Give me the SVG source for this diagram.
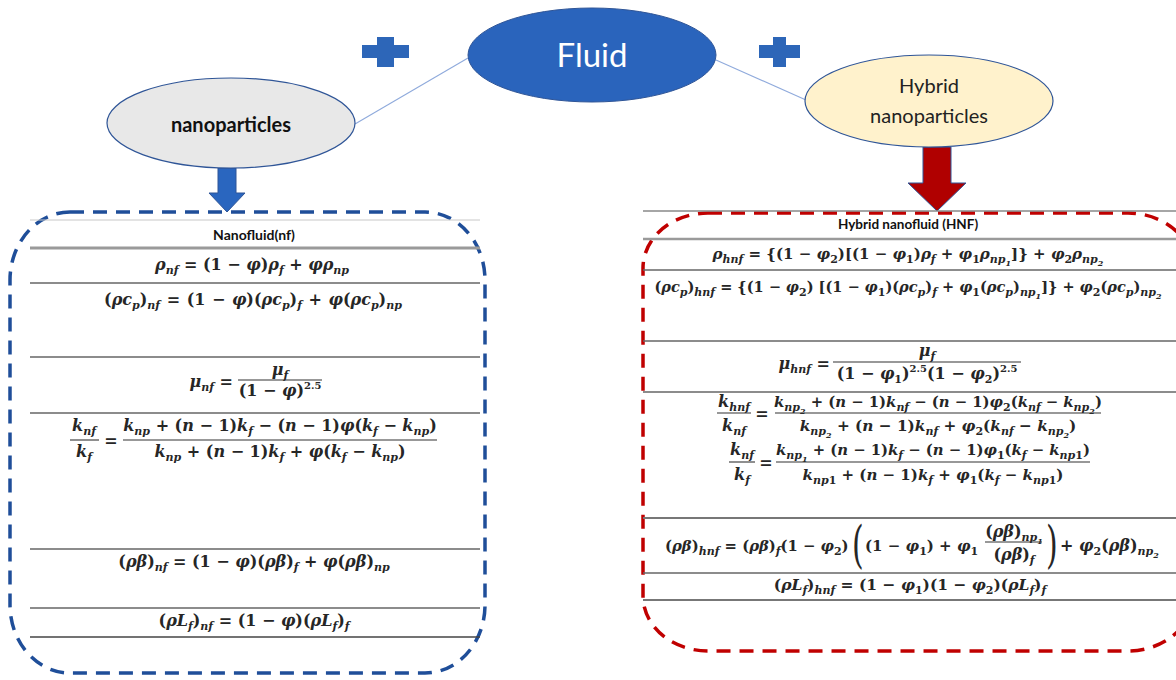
<svg xmlns="http://www.w3.org/2000/svg" width="1176" height="680" viewBox="0 0 1176 680">
<style>
.lbl{font-family:Lato,"Open Sans","Liberation Sans",sans-serif;}
.m{font-family:"DejaVu Serif","Liberation Serif",serif;font-weight:bold;font-size:16px;fill:#262626;}
.i{font-style:italic;}
.sb{font-size:11px;baseline-shift:-4px;}
.ss{font-size:8px;baseline-shift:-3px;}
.sp{font-size:10px;baseline-shift:7px;}
.big{font-family:"DejaVu Serif","Liberation Serif",serif;font-weight:normal;fill:#262626;}
.hl{stroke:#666;stroke-width:1.3;}
.fb{stroke:#333;stroke-width:1.1;}
.conn{stroke:#8FAADC;stroke-width:1.1;fill:none;}
</style>
<rect width="1176" height="680" fill="#fff"/>

<g id="connectors">
<line class="conn" x1="468" y1="58" x2="355" y2="124"/>
<line class="conn" x1="716" y1="60" x2="806" y2="100"/>
<path d="M218,168 H236 V193 H245 L227,212 L209,193 H218 Z" fill="#2A66BF" stroke="#2F5597" stroke-width="1"/>
<path d="M923,147 H951 V183 H966 L937,211 L908,183 H923 Z" fill="#B00000" stroke="#2F5597" stroke-width="1"/>
</g>

<g id="plus-left"><path d="M377,37 H394 V45 H409 V58 H394 V67 H377 V58 H362 V45 H377 Z" fill="#2D66B8"/></g>
<g id="plus-right"><path d="M773,37 H786 V45 H800 V58 H786 V67 H773 V58 H759 V45 H773 Z" fill="#2D66B8"/></g>

<g id="fluid">
<ellipse cx="592" cy="55" rx="124" ry="47" fill="#2A64BC" stroke="#2F5597" stroke-width="1"/>
<text class="lbl" x="592" y="67" text-anchor="middle" font-size="33" fill="#fff">Fluid</text>
</g>

<g id="nanoparticles">
<ellipse cx="231" cy="123" rx="124" ry="45" fill="#E8E8E8" stroke="#2F5597" stroke-width="1.2"/>
<text class="lbl" x="231" y="132" text-anchor="middle" font-size="20" font-weight="bold" fill="#111">nanoparticles</text>
</g>

<g id="hybrid">
<ellipse cx="929" cy="101" rx="124" ry="46" fill="#FFF2CC" stroke="#2F5597" stroke-width="1.2"/>
<text class="lbl" x="929" y="93" text-anchor="middle" font-size="20" fill="#222">Hybrid</text>
<text class="lbl" x="929" y="123" text-anchor="middle" font-size="20" fill="#222">nanoparticles</text>
</g>

<g id="nanofluid-table">
<rect x="10" y="212" width="475" height="461" rx="60" ry="68" fill="none" stroke="#1F4E99" stroke-width="3.5" stroke-dasharray="14 9"/>
<line x1="30" y1="220" x2="480" y2="220" stroke="#c8c8c8" stroke-width="1"/>
<line x1="30" y1="248" x2="480" y2="248" stroke="#9a9a9a" stroke-width="3"/>
<line class="hl" x1="30" y1="283" x2="480" y2="283"/>
<line class="hl" x1="30" y1="357" x2="480" y2="357"/>
<line class="hl" x1="30" y1="413" x2="480" y2="413"/>
<line class="hl" x1="30" y1="549" x2="480" y2="549"/>
<line class="hl" x1="30" y1="608" x2="480" y2="608"/>
<line x1="30" y1="637" x2="480" y2="637" stroke="#444" stroke-width="1.5"/>
<text class="lbl" x="254" y="240" text-anchor="middle" font-size="14" font-weight="bold" fill="#111">Nanofluid(nf)</text>
<text class="m" x="252" y="270" text-anchor="middle"><tspan class="i">ρ</tspan><tspan class="i sb">nf</tspan> = (1 − <tspan class="i">φ</tspan>)<tspan class="i">ρ</tspan><tspan class="i sb">f</tspan> + <tspan class="i">φρ</tspan><tspan class="i sb">np</tspan></text>
<text class="m" x="253" y="305" text-anchor="middle" style="word-spacing:1px">(<tspan class="i">ρc</tspan><tspan class="i sb">p</tspan>)<tspan class="i sb">nf</tspan> = (1 − <tspan class="i">φ</tspan>)(<tspan class="i">ρc</tspan><tspan class="i sb">p</tspan>)<tspan class="i sb">f</tspan> + <tspan class="i">φ</tspan>(<tspan class="i">ρc</tspan><tspan class="i sb">p</tspan>)<tspan class="i sb">np</tspan></text>
<text class="m" x="233" y="387" text-anchor="end"><tspan class="i">μ</tspan><tspan class="i sb">nf</tspan> =</text>
<text class="m" x="280" y="375" text-anchor="middle"><tspan class="i">μ</tspan><tspan class="i sb">f</tspan></text>
<line class="fb" x1="238" y1="380" x2="322" y2="380"/>
<text class="m" x="280" y="396" text-anchor="middle">(1 − <tspan class="i">φ</tspan>)<tspan class="sp">2.5</tspan></text>
<text class="m" x="84" y="431" text-anchor="middle"><tspan class="i">k</tspan><tspan class="i sb">nf</tspan></text>
<line class="fb" x1="70" y1="440" x2="99" y2="440"/>
<text class="m" x="84" y="457" text-anchor="middle"><tspan class="i">k</tspan><tspan class="i sb">f</tspan></text>
<text class="m" x="111" y="446" text-anchor="middle">=</text>
<text class="m" x="280" y="431" text-anchor="middle"><tspan class="i">k</tspan><tspan class="i sb">np</tspan> + (<tspan class="i">n</tspan> − 1)<tspan class="i">k</tspan><tspan class="i sb">f</tspan> − (<tspan class="i">n</tspan> − 1)<tspan class="i">φ</tspan>(<tspan class="i">k</tspan><tspan class="i sb">f</tspan> − <tspan class="i">k</tspan><tspan class="i sb">np</tspan>)</text>
<line class="fb" x1="123" y1="440" x2="437" y2="440"/>
<text class="m" x="280" y="457" text-anchor="middle"><tspan class="i">k</tspan><tspan class="i sb">np</tspan> + (<tspan class="i">n</tspan> − 1)<tspan class="i">k</tspan><tspan class="i sb">f</tspan> + <tspan class="i">φ</tspan>(<tspan class="i">k</tspan><tspan class="i sb">f</tspan> − <tspan class="i">k</tspan><tspan class="i sb">np</tspan>)</text>
<text class="m" x="254" y="567" text-anchor="middle">(<tspan class="i">ρβ</tspan>)<tspan class="i sb">nf</tspan> = (1 − <tspan class="i">φ</tspan>)(<tspan class="i">ρβ</tspan>)<tspan class="i sb">f</tspan> + <tspan class="i">φ</tspan>(<tspan class="i">ρβ</tspan>)<tspan class="i sb">np</tspan></text>
<text class="m" x="254" y="626" text-anchor="middle">(<tspan class="i">ρL</tspan><tspan class="i sb">f</tspan>)<tspan class="i sb">nf</tspan> = (1 − <tspan class="i">φ</tspan>)(<tspan class="i">ρL</tspan><tspan class="i sb">f</tspan>)<tspan class="i sb">f</tspan></text>
</g>

<g id="hybrid-table">
<rect x="643" y="213" width="550" height="438" rx="65" ry="55" fill="none" stroke="#C00000" stroke-width="3.5" stroke-dasharray="14 9"/>
<line x1="643" y1="211" x2="1176" y2="211" stroke="#888" stroke-width="1.3"/>
<line x1="643" y1="239" x2="1176" y2="239" stroke="#9a9a9a" stroke-width="2.5"/>
<line class="hl" x1="643" y1="270" x2="1176" y2="270"/>
<line class="hl" x1="643" y1="341" x2="1176" y2="341"/>
<line class="hl" x1="643" y1="392" x2="1176" y2="392"/>
<line x1="643" y1="518" x2="1176" y2="518" stroke="#777" stroke-width="2"/>
<line class="hl" x1="643" y1="573" x2="1176" y2="573"/>
<line x1="643" y1="600" x2="1176" y2="600" stroke="#777" stroke-width="2"/>
<text class="lbl" x="908" y="229" text-anchor="middle" font-size="13.5" font-weight="bold" fill="#111">Hybrid nanofluid (HNF)</text>
<text class="m" x="908" y="259" text-anchor="middle" style="font-size:15px"><tspan class="i">ρ</tspan><tspan class="i sb">hnf</tspan> = {(1 − <tspan class="i">φ</tspan><tspan class="sb">2</tspan>)[(1 − <tspan class="i">φ</tspan><tspan class="sb">1</tspan>)<tspan class="i">ρ</tspan><tspan class="i sb">f</tspan> + <tspan class="i">φ</tspan><tspan class="sb">1</tspan><tspan class="i">ρ</tspan><tspan class="i sb">np<tspan class="ss">1</tspan></tspan>]} + <tspan class="i">φ</tspan><tspan class="sb">2</tspan><tspan class="i">ρ</tspan><tspan class="i sb">np<tspan class="ss">2</tspan></tspan></text>
<text class="m" x="908" y="292" text-anchor="middle" style="font-size:14.5px">(<tspan class="i">ρc</tspan><tspan class="i sb">p</tspan>)<tspan class="i sb">hnf</tspan> = {(1 − <tspan class="i">φ</tspan><tspan class="sb">2</tspan>) [(1 − <tspan class="i">φ</tspan><tspan class="sb">1</tspan>)(<tspan class="i">ρc</tspan><tspan class="i sb">p</tspan>)<tspan class="i sb">f</tspan> + <tspan class="i">φ</tspan><tspan class="sb">1</tspan>(<tspan class="i">ρc</tspan><tspan class="i sb">p</tspan>)<tspan class="i sb">np<tspan class="ss">1</tspan></tspan>]} + <tspan class="i">φ</tspan><tspan class="sb">2</tspan>(<tspan class="i">ρc</tspan><tspan class="i sb">p</tspan>)<tspan class="i sb">np<tspan class="ss">2</tspan></tspan></text>
<text class="m" x="830" y="369" text-anchor="end"><tspan class="i">μ</tspan><tspan class="i sb">hnf</tspan> =</text>
<text class="m" x="927" y="356" text-anchor="middle"><tspan class="i">μ</tspan><tspan class="i sb">f</tspan></text>
<line class="fb" x1="833" y1="362" x2="1021" y2="362"/>
<text class="m" x="927" y="379" text-anchor="middle">(1 − <tspan class="i">φ</tspan><tspan class="sb">1</tspan>)<tspan class="sp">2.5</tspan>(1 − <tspan class="i">φ</tspan><tspan class="sb">2</tspan>)<tspan class="sp">2.5</tspan></text>
<text class="m" x="734" y="407" text-anchor="middle"><tspan class="i">k</tspan><tspan class="i sb">hnf</tspan></text>
<line class="fb" x1="717" y1="413" x2="751" y2="413"/>
<text class="m" x="734" y="431" text-anchor="middle"><tspan class="i">k</tspan><tspan class="i sb">nf</tspan></text>
<text class="m" x="762" y="419" text-anchor="middle">=</text>
<text class="m" x="938" y="407" text-anchor="middle" style="font-size:14.8px"><tspan class="i">k</tspan><tspan class="i sb">np<tspan class="ss">2</tspan></tspan> + (<tspan class="i">n</tspan> − 1)<tspan class="i">k</tspan><tspan class="i sb">nf</tspan> − (<tspan class="i">n</tspan> − 1)<tspan class="i">φ</tspan><tspan class="sb">2</tspan>(<tspan class="i">k</tspan><tspan class="i sb">nf</tspan> − <tspan class="i">k</tspan><tspan class="i sb">np<tspan class="ss">2</tspan></tspan>)</text>
<line class="fb" x1="775" y1="413" x2="1101" y2="413"/>
<text class="m" x="938" y="431" text-anchor="middle" style="font-size:15.3px"><tspan class="i">k</tspan><tspan class="i sb">np<tspan class="ss">2</tspan></tspan> + (<tspan class="i">n</tspan> − 1)<tspan class="i">k</tspan><tspan class="i sb">nf</tspan> + <tspan class="i">φ</tspan><tspan class="sb">2</tspan>(<tspan class="i">k</tspan><tspan class="i sb">nf</tspan> − <tspan class="i">k</tspan><tspan class="i sb">np<tspan class="ss">2</tspan></tspan>)</text>
<text class="m" x="742" y="455" text-anchor="middle"><tspan class="i">k</tspan><tspan class="i sb">nf</tspan></text>
<line class="fb" x1="729" y1="462" x2="755" y2="462"/>
<text class="m" x="742" y="480" text-anchor="middle"><tspan class="i">k</tspan><tspan class="i sb">f</tspan></text>
<text class="m" x="766" y="468" text-anchor="middle">=</text>
<text class="m" x="933" y="455" text-anchor="middle" style="font-size:14.8px"><tspan class="i">k</tspan><tspan class="i sb">np<tspan class="ss">1</tspan></tspan> + (<tspan class="i">n</tspan> − 1)<tspan class="i">k</tspan><tspan class="i sb">f</tspan> − (<tspan class="i">n</tspan> − 1)<tspan class="i">φ</tspan><tspan class="sb">1</tspan>(<tspan class="i">k</tspan><tspan class="i sb">f</tspan> − <tspan class="i">k</tspan><tspan class="i sb">np</tspan><tspan class="sb">1</tspan>)</text>
<line class="fb" x1="776" y1="462" x2="1090" y2="462"/>
<text class="m" x="933" y="480" text-anchor="middle" style="font-size:15px"><tspan class="i">k</tspan><tspan class="i sb">np</tspan><tspan class="sb">1</tspan> + (<tspan class="i">n</tspan> − 1)<tspan class="i">k</tspan><tspan class="i sb">f</tspan> + <tspan class="i">φ</tspan><tspan class="sb">1</tspan>(<tspan class="i">k</tspan><tspan class="i sb">f</tspan> − <tspan class="i">k</tspan><tspan class="i sb">np</tspan><tspan class="sb">1</tspan>)</text>
<text class="m" x="665" y="551" style="font-size:14.8px">(<tspan class="i">ρβ</tspan>)<tspan class="i sb">hnf</tspan> = (<tspan class="i">ρβ</tspan>)<tspan class="i sb">f</tspan>(1 − <tspan class="i">φ</tspan><tspan class="sb">2</tspan>)</text>
<text class="big" x="852" y="562" font-size="50" transform="translate(852 562) scale(0.6 1) translate(-852 -562)">(</text>
<text class="m" x="865" y="551" style="font-size:15px">(1 − <tspan class="i">φ</tspan><tspan class="sb">1</tspan>) + <tspan class="i">φ</tspan><tspan class="sb">1</tspan></text>
<text class="m" x="1014" y="537" text-anchor="middle">(<tspan class="i">ρβ</tspan>)<tspan class="i sb">np<tspan class="ss">1</tspan></tspan></text>
<line class="fb" x1="985" y1="542" x2="1042" y2="542"/>
<text class="m" x="1014" y="560" text-anchor="middle">(<tspan class="i">ρβ</tspan>)<tspan class="i sb">f</tspan></text>
<text class="big" x="1046" y="562" font-size="50" transform="translate(1046 562) scale(0.6 1) translate(-1046 -562)">)</text>
<text class="m" x="1060" y="551">+ <tspan class="i">φ</tspan><tspan class="sb">2</tspan>(<tspan class="i">ρβ</tspan>)<tspan class="i sb">np<tspan class="ss">2</tspan></tspan></text>
<text class="m" x="910" y="590" text-anchor="middle" style="font-size:15.5px">(<tspan class="i">ρL</tspan><tspan class="i sb">f</tspan>)<tspan class="i sb">hnf</tspan> = (1 − <tspan class="i">φ</tspan><tspan class="sb">1</tspan>)(1 − <tspan class="i">φ</tspan><tspan class="sb">2</tspan>)(<tspan class="i">ρL</tspan><tspan class="i sb">f</tspan>)<tspan class="i sb">f</tspan></text>
</g>
</svg>
